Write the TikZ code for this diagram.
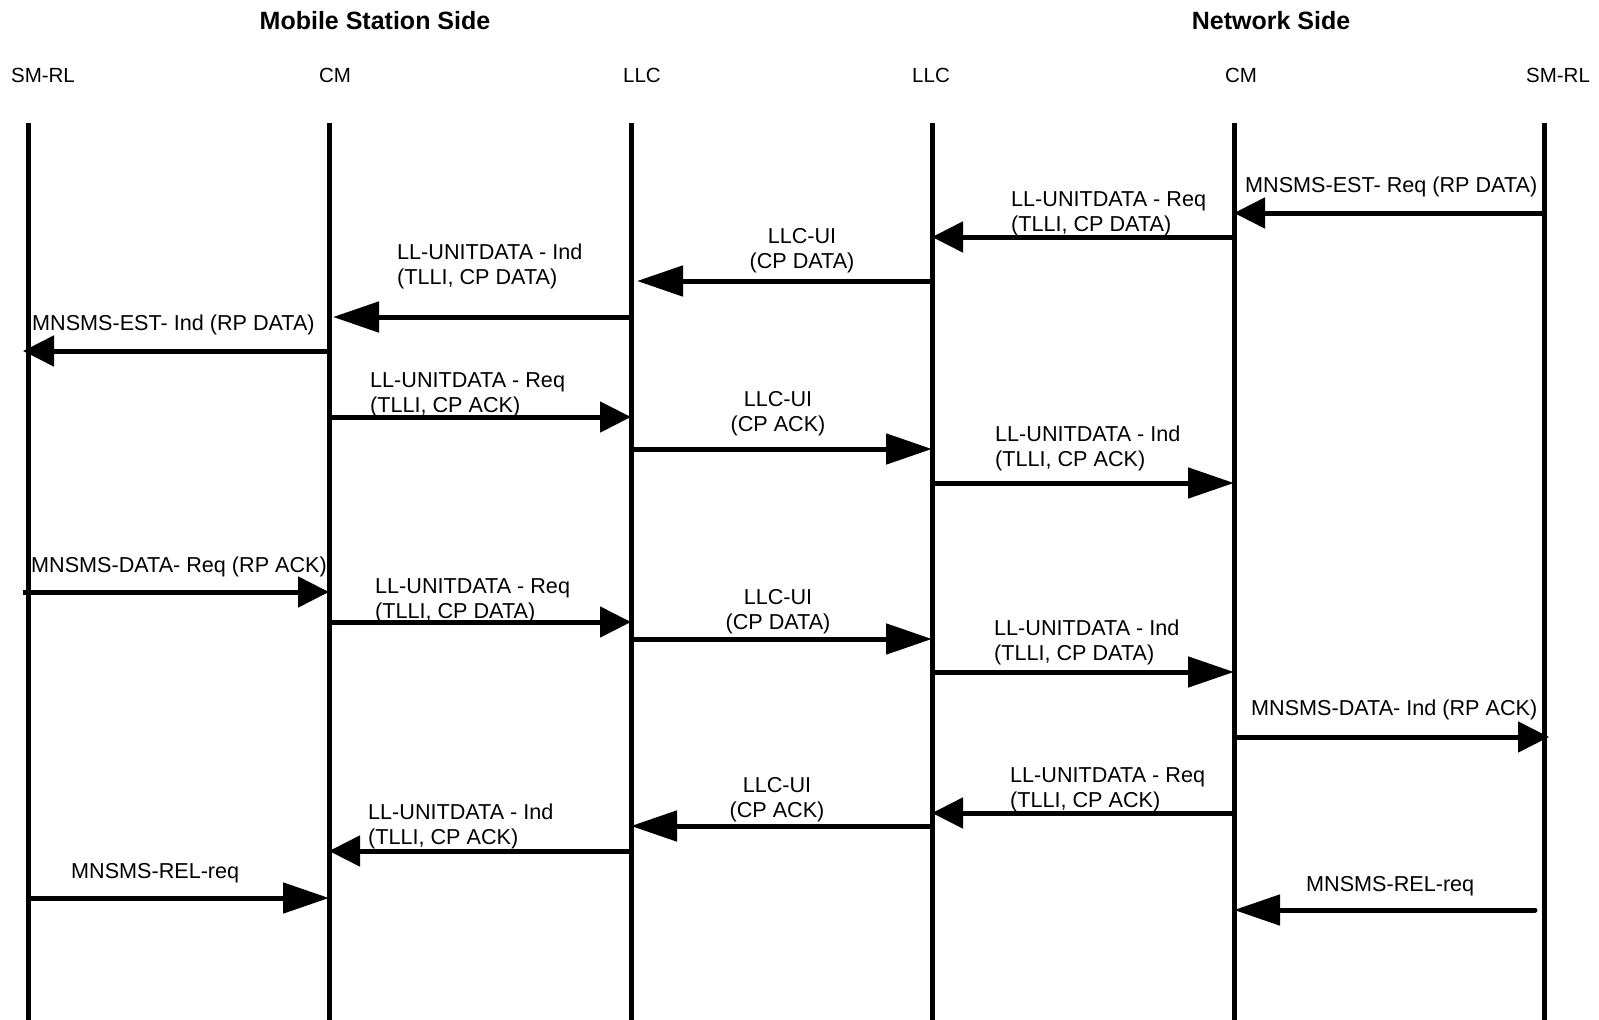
\documentclass[tikz,border=0pt]{standalone}
\usepackage{fontspec}
\setmainfont{Liberation Sans}
\usetikzlibrary{arrows.meta}

\begin{document}
\begin{tikzpicture}[x=1pt,y=-1pt,
    lifeline/.style={line width=5pt},
    msgtext/.style={inner sep=0pt,font=\fontsize{21.6}{25}\selectfont,align=left,anchor=base west},
    msgmid/.style={msgtext,align=center,anchor=base}]

  \useasboundingbox (0,0) rectangle (1599,1020);

  % headings
  \begin{scope}[every node/.style={anchor=base,inner sep=0pt,font=\bfseries\fontsize{25}{30}\selectfont}]
    \node (ms) at (375,29)  {Mobile Station Side};
    \node (nw) at (1271,29) {Network Side};
  \end{scope}

  \begin{scope}[every node/.style={anchor=base,inner sep=0pt,font=\fontsize{20.5}{25}\selectfont}]
    \node (h1) at (43,82)   {SM-RL};
    \node (h2) at (335,82)  {CM};
    \node (h3) at (642,82)  {LLC};
    \node (h4) at (931,82)  {LLC};
    \node (h5) at (1241,82) {CM};
    \node (h6) at (1558,82) {SM-RL};
  \end{scope}

  % lifelines
  \coordinate (l1) at (28,123);
  \coordinate (l2) at (329,123);
  \coordinate (l3) at (631,123);
  \coordinate (l4) at (932,123);
  \coordinate (l5) at (1234,123);
  \coordinate (l6) at (1544,123);

  \draw[lifeline] (l1) -- (l1 |- 0,1020);
  \draw[lifeline] (l2) -- (l2 |- 0,1020);
  \draw[lifeline] (l3) -- (l3 |- 0,1020);
  \draw[lifeline] (l4) -- (l4 |- 0,1020);
  \draw[lifeline] (l5) -- (l5 |- 0,1020);
  \draw[lifeline] (l6) -- (l6 |- 0,1020);

  % messages, short heads
  \begin{scope}[every edge/.style={draw,line width=5pt,-{Triangle[length=31pt,width=30pt]}}]
    \path (l6 |- 0,213) edge (l5 |- 0,213);
    \path (l5 |- 0,237) edge (l4 |- 0,237);
    \path (l2 |- 0,351) edge[shorten >=-5pt] (l1 |- 0,351);
    \path (l2 |- 0,417) edge (l3 |- 0,417);
    \path (l1 |- 0,592) edge[shorten <=-5pt] (l2 |- 0,592);
    \path (l2 |- 0,622) edge (l3 |- 0,622);
    \path (l5 |- 0,737) edge[shorten >=-5pt] (l6 |- 0,737);
    \path (l5 |- 0,813) edge (l4 |- 0,813);
    \path (l3 |- 0,851) edge (l2 |- 0,851);
  \end{scope}

  % messages, long heads
  \begin{scope}[every edge/.style={draw,line width=5pt,-{Triangle[length=46pt,width=30pt]}}]
    \path (l4 |- 0,281) edge[shorten >=6pt] (l3 |- 0,281);
    \path (l3 |- 0,317) edge[shorten >=4pt] (l2 |- 0,317);
    \path (l3 |- 0,449) edge (l4 |- 0,449);
    \path (l4 |- 0,483) edge (l5 |- 0,483);
    \path (l3 |- 0,639) edge (l4 |- 0,639);
    \path (l4 |- 0,672) edge (l5 |- 0,672);
    \path (l4 |- 0,826) edge (l3 |- 0,826);
    \path (l1 |- 0,898) edge (l2 |- 0,898);
    \path (l6 |- 0,910) edge[shorten <=9pt,line cap=round] (l5 |- 0,910);
  \end{scope}

  % labels
  \node[msgtext] (t1)  at (1245,192) {MNSMS-EST- Req (RP DATA)};
  \node[msgtext] (t2)  at (1011,231) {LL-UNITDATA - Req\\(TLLI, CP DATA)};
  \node[msgmid]  (t3)  at (802,268)  {LLC-UI\\(CP DATA)};
  \node[msgtext] (t4)  at (397,284)  {LL-UNITDATA - Ind\\(TLLI, CP DATA)};
  \node[msgtext] (t5)  at (32,330)   {MNSMS-EST- Ind (RP DATA)};
  \node[msgtext] (t6)  at (370,412)  {LL-UNITDATA - Req\\(TLLI, CP ACK)};
  \node[msgmid]  (t7)  at (778,431)  {LLC-UI\\(CP ACK)};
  \node[msgtext] (t8)  at (995,466)  {LL-UNITDATA - Ind\\(TLLI, CP ACK)};
  \node[msgtext] (t9)  at (31,572)   {MNSMS-DATA- Req (RP ACK)};
  \node[msgtext] (t10) at (375,618)  {LL-UNITDATA - Req\\(TLLI, CP DATA)};
  \node[msgmid]  (t11) at (778,629)  {LLC-UI\\(CP DATA)};
  \node[msgtext] (t12) at (994,660)  {LL-UNITDATA - Ind\\(TLLI, CP DATA)};
  \node[msgtext] (t13) at (1251,715) {MNSMS-DATA- Ind (RP ACK)};
  \node[msgtext] (t14) at (1010,807) {LL-UNITDATA - Req\\(TLLI, CP ACK)};
  \node[msgmid]  (t15) at (777,817)  {LLC-UI\\(CP ACK)};
  \node[msgtext] (t16) at (368,844)  {LL-UNITDATA - Ind\\(TLLI, CP ACK)};
  \node[msgtext] (t17) at (71,878)   {MNSMS-REL-req};
  \node[msgtext] (t18) at (1306,891) {MNSMS-REL-req};

\end{tikzpicture}
\end{document}
